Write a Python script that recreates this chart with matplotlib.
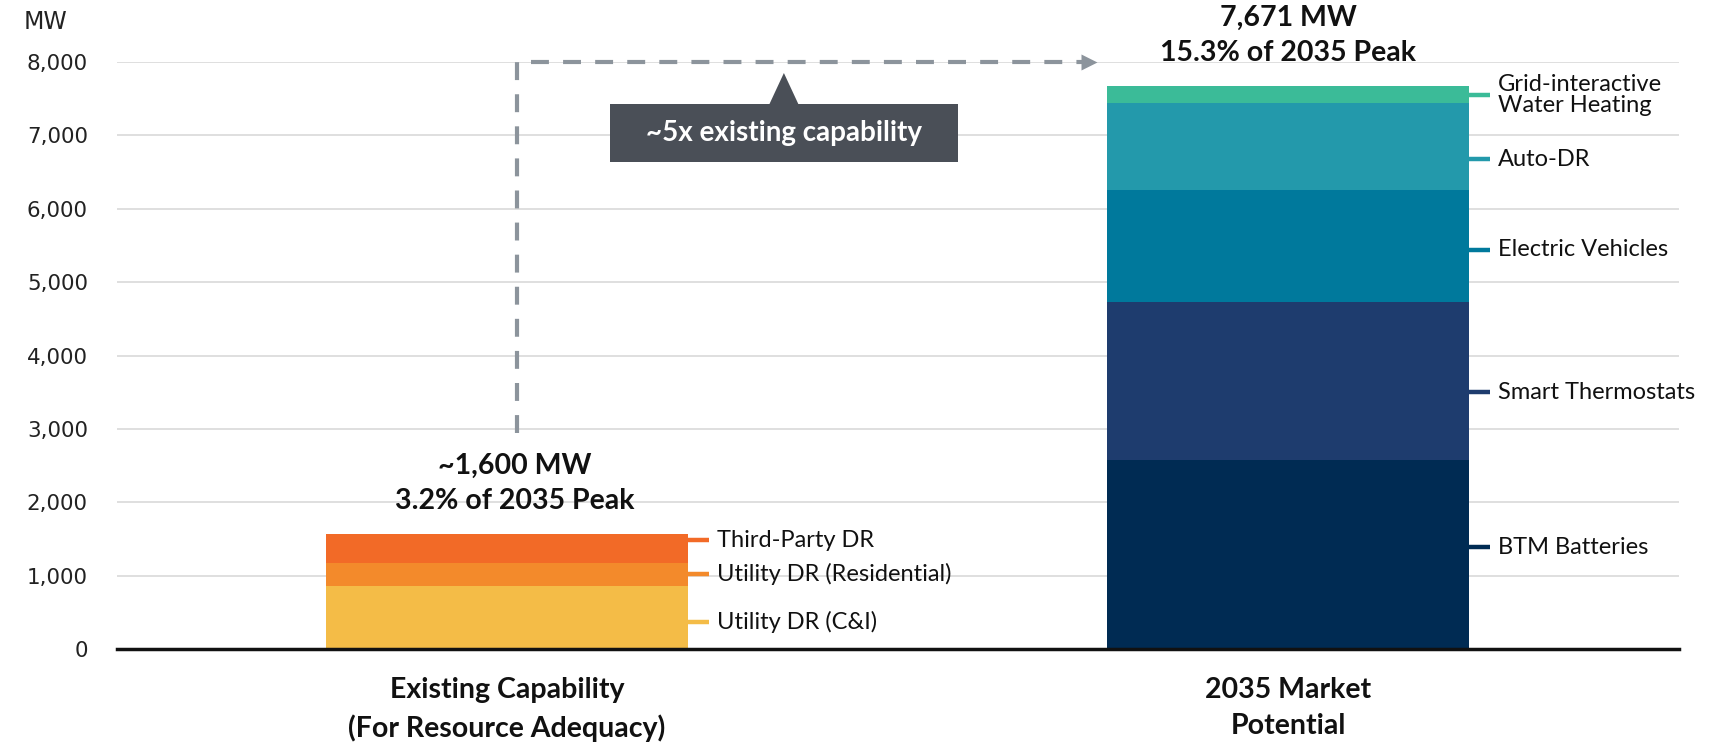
import matplotlib
matplotlib.use('Agg')
import matplotlib.pyplot as plt
from matplotlib.patches import Rectangle, Polygon

plt.rcParams['font.family'] = ['Lato', 'DejaVu Sans']

# data (MW)
categories = ['Existing Capability\n(For Resource Adequacy)', '2035 Market\nPotential']
existing_names = ['Utility DR (C&I)', 'Utility DR (Residential)', 'Third-Party DR']
existing_mw = [865, 305, 400]
existing_cols = ['#F4BC47', '#F38A2B', '#F26A27']
market_names = ['BTM Batteries', 'Smart Thermostats', 'Electric Vehicles', 'Auto-DR',
                'Grid-interactive\nWater Heating']
market_mw = [2571, 2162, 1520, 1187, 231]
market_cols = ['#002B53', '#1E3C6E', '#00799C', '#2399AB', '#3BBB98']
total_mw = ['~1,600 MW', '7,671 MW']
peak_share = ['3.2% of 2035 Peak', '15.3% of 2035 Peak']
callout = '~5x existing capability'

# label leader nudges (MW) relative to segment middles
existing_nudge = [-60, 0, 115]
market_nudge = [100, -150, -55, -170, 0]

W, H = 1711, 742
fig = plt.figure(figsize=(W / 100, H / 100), dpi=100)
ax = fig.add_axes([117 / W, 1 - 649 / H, (1679 - 117) / W, (649 - 62) / H])
bw = 0.4635

def stack(x, vals, names, cols, nudges):
    bottom = 0
    for v, n, c, d in zip(vals, names, cols, nudges):
        ax.bar(x, v, bw, bottom=bottom, color=c, edgecolor='none', zorder=3)
        y = bottom + v / 2 + d
        ax.plot([x + bw / 2, x + bw / 2 + 0.027], [y, y], color=c, lw=3.2,
                solid_capstyle='butt', clip_on=False, zorder=3)
        ax.text(x + bw / 2 + 0.037, y, n, ha='left', va='center', fontsize=17,
                color='#111', linespacing=1.0)
        bottom += v
    return bottom

tops = [stack(0, existing_mw, existing_names, existing_cols, existing_nudge),
        stack(1, market_mw, market_names, market_cols, market_nudge)]
for x, dx, t, a, b in zip([0, 1], [0.01, 0.0], tops, total_mw, peak_share):
    ax.text(x + dx, t + 928, a, ha='center', va='center', fontsize=20.5,
            weight='bold', color='#111')
    ax.text(x + dx, t + 450, b, ha='center', va='center', fontsize=20.5,
            weight='bold', color='#111')

# dashed arrow
dash = (0, (4.3, 3.4))
ax.plot([0.013, 0.013, 0.74], [2950, 8000, 8000], color='#8C949C', lw=3,
        ls=dash, clip_on=False, zorder=4)
ax.plot([0.745], [8000], marker='>', ms=11, color='#8C949C', mec='none',
        clip_on=False, zorder=4)

# callout box
ax.add_patch(Rectangle((0.132, 6635), 0.446, 792, fc='#4A4F57', ec='none', zorder=5))
ax.add_patch(Polygon([(0.336, 7427), (0.373, 7427), (0.3545, 7850)], closed=True,
                     fc='#4A4F57', ec='none', zorder=5))
ax.text(0.355, 7031, callout, ha='center', va='center', fontsize=20, weight='bold',
        color='white', zorder=6)

ax.set_xlim(-0.4994, 1.5006)
ax.set_ylim(0, 8000)
ax.set_yticks(range(0, 8001, 1000))
ax.set_yticklabels([f'{v:,}' for v in range(0, 8001, 1000)], family='DejaVu Sans',
                   fontsize=15.4, color='#222')
ax.set_xticks([0, 1])
ax.set_xticklabels(categories, fontsize=20.5, weight='bold', color='#111', linespacing=1.5)
ax.tick_params(axis='y', length=0, pad=21)
ax.tick_params(axis='x', length=0, pad=20)
ax.yaxis.grid(True, color='#D9D9D9', lw=1.2, zorder=0)
ax.set_axisbelow(True)
for s in ['left', 'right', 'top']:
    ax.spines[s].set_visible(False)
ax.spines['bottom'].set_color('#111')
ax.spines['bottom'].set_linewidth(2.5)
ax.spines['bottom'].set_zorder(6)

fig.text(45 / W, 1 - 22 / H, 'MW', ha='center', va='center', fontsize=17,
         family='DejaVu Sans', color='#222')

fig.savefig('out.png', dpi=100, facecolor='white')
